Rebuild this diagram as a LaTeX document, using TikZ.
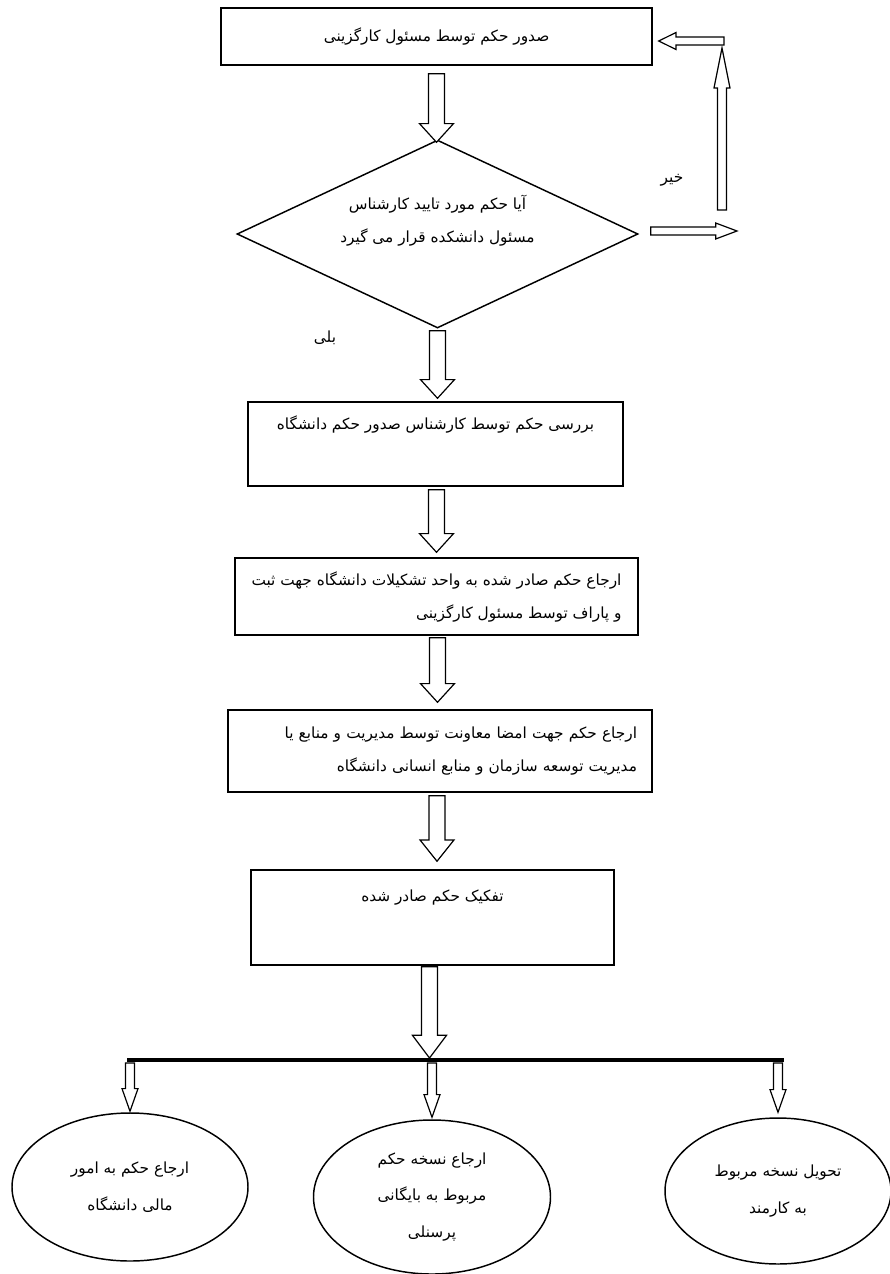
\documentclass[tikz,border=0pt]{standalone}
\usepackage{fontspec}
\usetikzlibrary{calc,shapes.geometric}
\TeXXeTstate=1
\newfontfamily\fa[Script=Arabic]{DejaVu Sans}
\newcommand\fatext[1]{\beginR #1\endR}
\newcommand\blockarrow[5]{%
  \coordinate (bah) at ($(#2)!#5!(#1)$);
  \draw[barrow] ($(#1)!#3!90:(#2)$) -- ($(bah)!#3!90:(#2)$) -- ($(bah)!#4!90:(#2)$) -- (#2)
    -- ($(bah)!#4!-90:(#2)$) -- ($(bah)!#3!-90:(#2)$) -- ($(#1)!#3!-90:(#2)$) -- cycle;}
\begin{document}
\begin{tikzpicture}[x=0.75pt,y=-0.75pt,
  txt/.style={font=\fa\fontsize{11.5}{24.75}\selectfont},
  box/.style={draw, line width=1.1pt, inner sep=0pt, txt, align=center},
  rbox/.style={box, align=right},
  oval/.style={draw, ellipse, line width=1.1pt, inner sep=0pt, align=center, font=\fa\fontsize{11.5}{27.5}\selectfont},
  barrow/.style={draw, line width=0.9pt, fill=white, line join=miter},
  lab/.style={txt, inner sep=0pt}]
\useasboundingbox (0,0) rectangle (889,1274);
\fill[white] (0,0) rectangle (889,1274);

% boxes
\node[box, minimum width=431*0.75pt, minimum height=57*0.75pt] (b1) at (436.5,36.5)
  {\fatext{صدور حکم توسط مسئول کارگزینی}};
\node[draw, diamond, line width=1.1pt, inner sep=0pt, aspect=2.13,
  minimum width=401*0.75pt, minimum height=188*0.75pt, txt, align=center] (d) at (437.5,234)
  {\fatext{آیا حکم مورد تایید کارشناس}\\\fatext{مسئول دانشکده قرار می گیرد}\\[-10pt]\strut};
\node[box, minimum width=375*0.75pt, minimum height=84*0.75pt] (b2) at (435.5,444)
  {\fatext{بررسی حکم توسط کارشناس صدور حکم دانشگاه}\\\strut};
\node[rbox, minimum width=403*0.75pt, minimum height=77*0.75pt] (b3) at (436.5,596.5)
  {\fatext{ارجاع حکم صادر شده به واحد تشکیلات دانشگاه جهت ثبت}\\\fatext{و پاراف توسط مسئول کارگزینی}};
\node[rbox, text width=394*0.75pt, minimum width=424*0.75pt, minimum height=82*0.75pt] (b4) at (440,751)
  {\fatext{ارجاع حکم جهت امضا معاونت توسط مدیریت و منابع یا}\\\fatext{مدیریت توسعه سازمان و منابع انسانی دانشگاه}};
\node[box, minimum width=363*0.75pt, minimum height=95*0.75pt] (b5) at (432.5,917.5)
  {\fatext{تفکیک حکم صادر شده}\\\strut};

% ovals
\node[oval, minimum width=236*0.75pt, minimum height=148*0.75pt] (e1) at (130,1187)
  {\fatext{ارجاع حکم به امور}\\\fatext{مالی دانشگاه}};
\node[oval, minimum width=237*0.75pt, minimum height=154*0.75pt] (e2) at (432,1197)
  {\fatext{ارجاع نسخه حکم}\\\fatext{مربوط به بایگانی}\\\fatext{پرسنلی}};
\node[oval, minimum width=226*0.75pt, minimum height=146*0.75pt] (e3) at (778,1191)
  {\fatext{تحویل نسخه مربوط}\\\fatext{به کارمند}};

% labels
\node[lab] (no) at (672,180) {\fatext{خیر}};
\node[lab] (yes) at (325,338) {\fatext{بلی}};

% main flow arrows
\coordinate (a1s) at ($(b1.south)+(0,8)$);
\coordinate (a1e) at ($(a1s |- d.north)+(0,3)$);
\blockarrow{a1s}{a1e}{6pt}{12.75pt}{14pt}
\coordinate (a2s) at ($(d.south)+(0,2)$);
\coordinate (a2e) at ($(a2s |- b2.north)+(0,-3)$);
\blockarrow{a2s}{a2e}{6pt}{12.75pt}{14pt}
\coordinate (a3s) at ($(b2.south)+(1,3)$);
\coordinate (a3e) at ($(a3s |- b3.north)+(0,-5)$);
\blockarrow{a3s}{a3e}{6pt}{12.75pt}{14pt}
\coordinate (a4s) at ($(b3.south)+(1,2)$);
\coordinate (a4e) at ($(a4s |- b4.north)+(0,-7)$);
\blockarrow{a4s}{a4e}{6pt}{12.75pt}{14pt}
\coordinate (a5s) at ($(b4.south)+(-3,3)$);
\coordinate (a5e) at ($(a5s |- b5.north)+(0,-8)$);
\blockarrow{a5s}{a5e}{6pt}{12.75pt}{16pt}

% distribution bar
\coordinate (barL) at (127,1060);
\coordinate (barR) at (784,1060);
\coordinate (a6s) at ($(b5.south)+(-3,1)$);
\coordinate (a6e) at ($(a6s |- barL)+(0,-2)$);
\blockarrow{a6s}{a6e}{6pt}{12.75pt}{17pt}
\draw[line width=3.5pt] (barL) -- (barR);

\coordinate (c1s) at ($(e1.north |- barL)+(0,3)$);
\coordinate (c1e) at ($(e1.north)+(0,-1)$);
\blockarrow{c1s}{c1e}{3.4pt}{6pt}{17pt}
\coordinate (c2s) at ($(e2.north |- barL)+(0,3)$);
\coordinate (c2e) at ($(e2.north)+(0,-2)$);
\blockarrow{c2s}{c2e}{3.4pt}{6pt}{17pt}
\coordinate (c3s) at ($(e3.north |- barL)+(0,3)$);
\coordinate (c3e) at ($(e3.north)+(0,-5)$);
\blockarrow{c3s}{c3e}{3.4pt}{6pt}{17pt}

% "no" feedback loop
\coordinate (r1s) at ($(d.east)+(12,-3)$);
\coordinate (r1e) at (737,231);
\blockarrow{r1s}{r1e}{3pt}{6pt}{16pt}
\coordinate (v1s) at (722,210);
\coordinate (v1e) at (722,48);
\blockarrow{v1s}{v1e}{3.4pt}{6pt}{30pt}
\coordinate (l1s) at (724,41);
\coordinate (l1e) at ($(l1s -| b1.east)+(6,0)$);
\blockarrow{l1s}{l1e}{3pt}{6.4pt}{13pt}
\end{tikzpicture}
\end{document}
